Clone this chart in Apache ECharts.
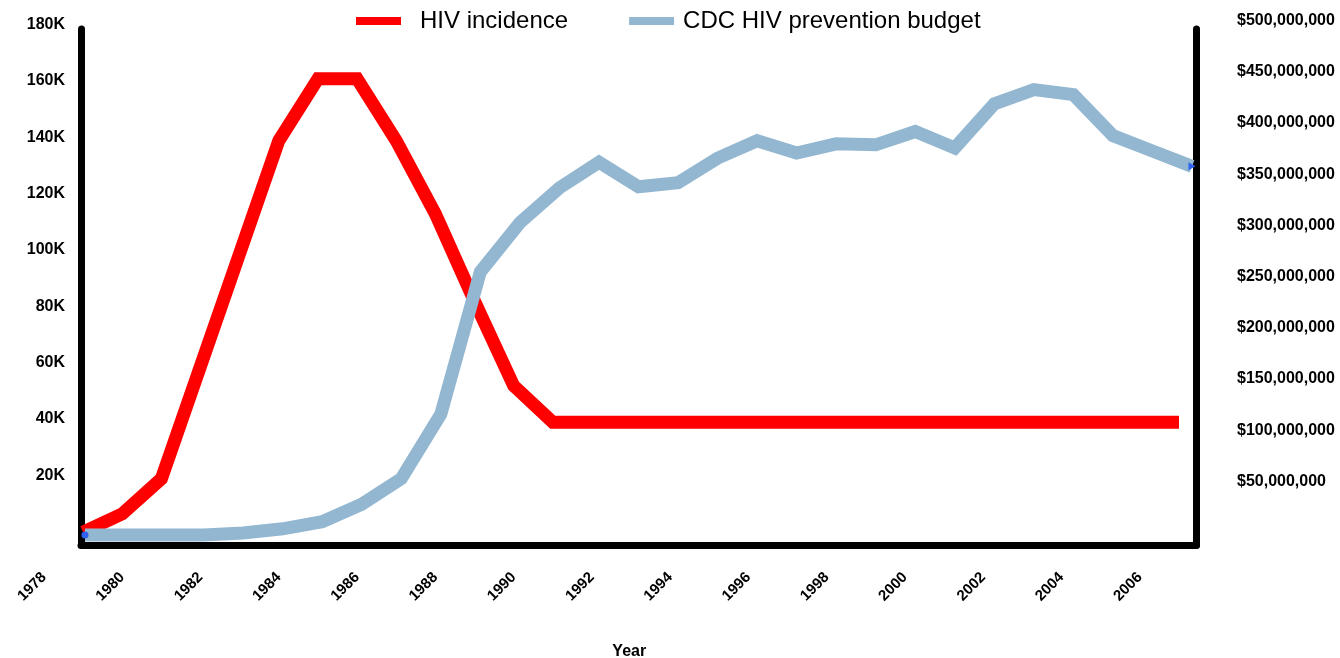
<!DOCTYPE html>
<html>
<head>
<meta charset="utf-8">
<script src="https://cdn.jsdelivr.net/npm/echarts@6/dist/echarts.min.js"></script>
<style>
  html, body { margin: 0; padding: 0; background: #fff; }
  #chart { width: 1340px; height: 658px; }
</style>
</head>
<body>
<div id="chart"></div>
<script>
// ---- data ----
const years = [1979, 1980, 1981, 1982, 1983, 1984, 1985, 1986, 1987, 1988, 1989, 1990, 1991, 1992, 1993, 1994, 1995, 1996, 1997, 1998, 1999, 2000, 2001, 2002, 2003, 2004, 2005, 2006, 2007];
const hivIncidence = [1000, 7500, 20000, 60000, 100000, 140000, 162000, 162000, 140000, 114000, 83000, 53000, 40000, 40000, 40000, 40000, 40000, 40000, 40000, 40000, 40000, 40000, 40000, 40000, 40000, 40000, 40000, 40000, 40000];
const preventionBudget = [1000000, 1000000, 1000000, 1000000, 3000000, 7000000, 14000000, 31000000, 56000000, 119000000, 258000000, 306000000, 340000000, 365000000, 341000000, 345000000, 369000000, 386000000, 374000000, 383000000, 382000000, 395000000, 379000000, 422000000, 436000000, 431000000, 391000000, 376000000, 361000000];
const seriesNames = ['HIV incidence', 'CDC HIV prevention budget'];
const xAxisTitle = 'Year';
const yearTickMin = 1978, yearTickMax = 2007, yearTickStep = 2;
const leftMax = 180000, leftStep = 20000;
const rightMax = 500000000, rightStep = 50000000;

const FONT = 'Liberation Sans, Arial, sans-serif';
const redPairs = years.map((y, i) => [y, hivIncidence[i]]);
const bluePairs = years.map((y, i) => [y, preventionBudget[i]]);
const lastIdx = years.length - 1;

const chart = echarts.init(document.getElementById('chart'), null, { renderer: 'canvas' });
chart.setOption({
  animation: false,
  backgroundColor: '#ffffff',
  legend: {
    left: 351, top: 4,
    itemWidth: 45, itemHeight: 8, itemGap: 61,
    icon: 'rect',
    textStyle: { fontFamily: FONT, fontSize: 24, color: '#000' },
    data: [
      { name: seriesNames[0], textStyle: { padding: [0, 0, 0, 14] } },
      { name: seriesNames[1], textStyle: { padding: [0, 0, 0, 4] } }
    ]
  },
  grid: [
    // 0: frame
    { left: 81, right: 143.5, top: 29, bottom: 113, containLabel: false, outerBoundsMode: 'none' },
    // 1: incidence (left scale) + year labels
    { left: 44, right: 161, top: 28, bottom: 123, containLabel: false, outerBoundsMode: 'none' },
    // 2: budget (right scale)
    { left: 85, right: 148, top: 24, bottom: 122, containLabel: false, outerBoundsMode: 'none' }
  ],
  xAxis: [
    { gridIndex: 0, type: 'value', min: 0, max: 1,
      axisLine: { show: true, onZero: false, lineStyle: { color: '#000', width: 7 } },
      axisTick: { show: false }, axisLabel: { show: false }, splitLine: { show: false },
      name: xAxisTitle, nameLocation: 'middle', nameGap: 99,
      nameTextStyle: { fontFamily: FONT, fontSize: 16, fontWeight: 'bold', color: '#000', padding: [0, 19, 0, 0] } },
    { gridIndex: 1, type: 'value', min: yearTickMin, max: yearTickMax, interval: yearTickStep,
      axisLine: { show: false }, axisTick: { show: false }, splitLine: { show: false },
      axisLabel: { show: true, rotate: 45, margin: 40, showMaxLabel: false,
        fontFamily: FONT, fontSize: 15, fontWeight: 'bold', color: '#000',
        formatter: v => String(v) } },
    { gridIndex: 2, type: 'value', min: years[0], max: years[lastIdx], show: false }
  ],
  yAxis: [
    // frame left / right lines
    { gridIndex: 0, type: 'value', position: 'left', min: 0, max: 1,
      axisLine: { show: true, onZero: false, lineStyle: { color: '#000', width: 7 } },
      axisTick: { show: false }, axisLabel: { show: false }, splitLine: { show: false } },
    { gridIndex: 0, type: 'value', position: 'right', min: 0, max: 1,
      axisLine: { show: true, onZero: false, lineStyle: { color: '#000', width: 7 } },
      axisTick: { show: false }, axisLabel: { show: false }, splitLine: { show: false } },
    // incidence scale
    { gridIndex: 1, type: 'value', position: 'left', offset: -37, min: 0, max: leftMax, interval: leftStep,
      axisLine: { show: false }, axisTick: { show: false }, splitLine: { show: false },
      axisLabel: { show: true, margin: 16, showMinLabel: false, verticalAlign: 'bottom', lineHeight: 7,
        fontFamily: FONT, fontSize: 16, fontWeight: 'bold', color: '#000',
        formatter: v => (v / 1000) + 'K' } },
    // budget scale
    { gridIndex: 2, type: 'value', position: 'right', min: 0, max: rightMax, interval: rightStep,
      axisLine: { show: false }, axisTick: { show: false }, splitLine: { show: false },
      axisLabel: { show: true, margin: 45, showMinLabel: false, verticalAlign: 'bottom', lineHeight: 7,
        fontFamily: FONT, fontSize: 16, fontWeight: 'bold', color: '#000',
        formatter: v => '$' + v.toLocaleString('en-US') } }
  ],
  series: [
    { name: seriesNames[0], type: 'line', xAxisIndex: 1, yAxisIndex: 2,
      data: redPairs, showSymbol: false, symbol: 'none', z: 3,
      itemStyle: { color: '#ff0000' },
      lineStyle: { color: '#ff0000', width: 13, cap: 'butt', join: 'miter' } },
    { name: seriesNames[1], type: 'line', xAxisIndex: 2, yAxisIndex: 3,
      data: bluePairs, showSymbol: false, symbol: 'none', z: 4,
      itemStyle: { color: '#93b7d1' },
      lineStyle: { color: '#93b7d1', width: 13, cap: 'butt', join: 'miter' },
      markPoint: {
        silent: true, label: { show: false },
        itemStyle: { color: '#2f62f0' },
        data: [
          { coord: bluePairs[0], symbol: 'circle', symbolSize: 7 },
          { coord: bluePairs[lastIdx], symbol: 'triangle', symbolSize: [8, 7], symbolRotate: -90 }
        ]
      } }
  ]
});
</script>
</body>
</html>
